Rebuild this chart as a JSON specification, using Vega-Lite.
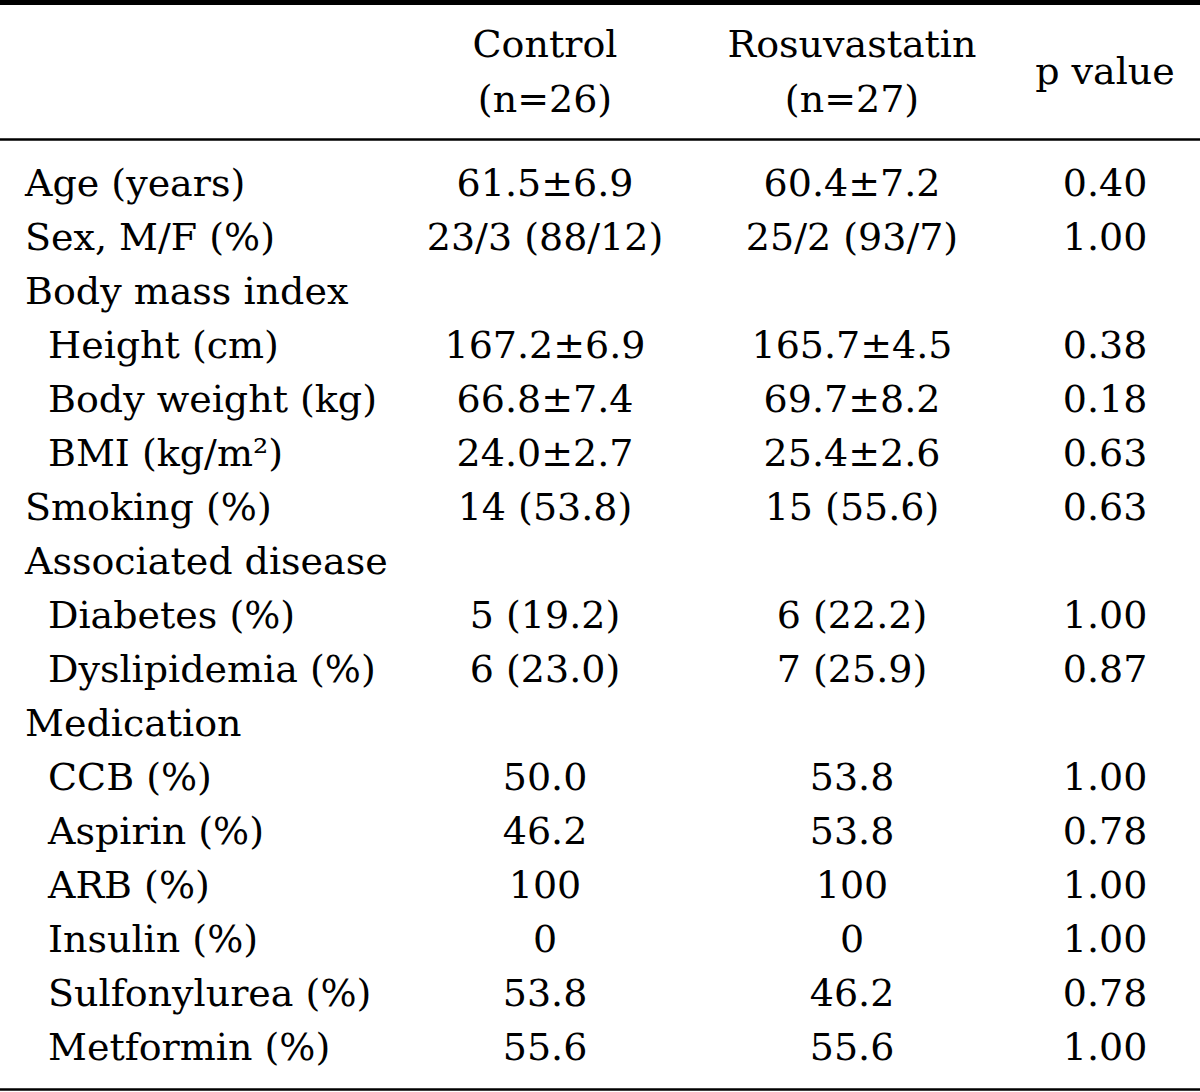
{
  "$schema": "https://vega.github.io/schema/vega-lite/v6.json",
  "width": 1200,
  "height": 1092,
  "padding": 0,
  "autosize": {"type": "none"},
  "background": "white",
  "config": {"view": {"stroke": null}},
  "datasets": {
    "cells": [
      {"row": 0, "col": "label", "text": "Age (years)"},
      {"row": 0, "col": "Control", "text": "61.5±6.9"},
      {"row": 0, "col": "Rosuvastatin", "text": "60.4±7.2"},
      {"row": 0, "col": "p value", "text": "0.40"},
      {"row": 1, "col": "label", "text": "Sex, M/F (%)"},
      {"row": 1, "col": "Control", "text": "23/3 (88/12)"},
      {"row": 1, "col": "Rosuvastatin", "text": "25/2 (93/7)"},
      {"row": 1, "col": "p value", "text": "1.00"},
      {"row": 2, "col": "label", "text": "Body mass index"},
      {"row": 3, "col": "sublabel", "text": "Height (cm)"},
      {"row": 3, "col": "Control", "text": "167.2±6.9"},
      {"row": 3, "col": "Rosuvastatin", "text": "165.7±4.5"},
      {"row": 3, "col": "p value", "text": "0.38"},
      {"row": 4, "col": "sublabel", "text": "Body weight (kg)"},
      {"row": 4, "col": "Control", "text": "66.8±7.4"},
      {"row": 4, "col": "Rosuvastatin", "text": "69.7±8.2"},
      {"row": 4, "col": "p value", "text": "0.18"},
      {"row": 5, "col": "sublabel", "text": "BMI (kg/m²)"},
      {"row": 5, "col": "Control", "text": "24.0±2.7"},
      {"row": 5, "col": "Rosuvastatin", "text": "25.4±2.6"},
      {"row": 5, "col": "p value", "text": "0.63"},
      {"row": 6, "col": "label", "text": "Smoking (%)"},
      {"row": 6, "col": "Control", "text": "14 (53.8)"},
      {"row": 6, "col": "Rosuvastatin", "text": "15 (55.6)"},
      {"row": 6, "col": "p value", "text": "0.63"},
      {"row": 7, "col": "label", "text": "Associated disease"},
      {"row": 8, "col": "sublabel", "text": "Diabetes (%)"},
      {"row": 8, "col": "Control", "text": "5 (19.2)"},
      {"row": 8, "col": "Rosuvastatin", "text": "6 (22.2)"},
      {"row": 8, "col": "p value", "text": "1.00"},
      {"row": 9, "col": "sublabel", "text": "Dyslipidemia (%)"},
      {"row": 9, "col": "Control", "text": "6 (23.0)"},
      {"row": 9, "col": "Rosuvastatin", "text": "7 (25.9)"},
      {"row": 9, "col": "p value", "text": "0.87"},
      {"row": 10, "col": "label", "text": "Medication"},
      {"row": 11, "col": "sublabel", "text": "CCB (%)"},
      {"row": 11, "col": "Control", "text": "50.0"},
      {"row": 11, "col": "Rosuvastatin", "text": "53.8"},
      {"row": 11, "col": "p value", "text": "1.00"},
      {"row": 12, "col": "sublabel", "text": "Aspirin (%)"},
      {"row": 12, "col": "Control", "text": "46.2"},
      {"row": 12, "col": "Rosuvastatin", "text": "53.8"},
      {"row": 12, "col": "p value", "text": "0.78"},
      {"row": 13, "col": "sublabel", "text": "ARB (%)"},
      {"row": 13, "col": "Control", "text": "100"},
      {"row": 13, "col": "Rosuvastatin", "text": "100"},
      {"row": 13, "col": "p value", "text": "1.00"},
      {"row": 14, "col": "sublabel", "text": "Insulin (%)"},
      {"row": 14, "col": "Control", "text": "0"},
      {"row": 14, "col": "Rosuvastatin", "text": "0"},
      {"row": 14, "col": "p value", "text": "1.00"},
      {"row": 15, "col": "sublabel", "text": "Sulfonylurea (%)"},
      {"row": 15, "col": "Control", "text": "53.8"},
      {"row": 15, "col": "Rosuvastatin", "text": "46.2"},
      {"row": 15, "col": "p value", "text": "0.78"},
      {"row": 16, "col": "sublabel", "text": "Metformin (%)"},
      {"row": 16, "col": "Control", "text": "55.6"},
      {"row": 16, "col": "Rosuvastatin", "text": "55.6"},
      {"row": 16, "col": "p value", "text": "1.00"}
    ],
    "header": [
      {"row": -2, "col": "Control", "text": "Control\n(n=26)"},
      {"row": -2, "col": "Rosuvastatin", "text": "Rosuvastatin\n(n=27)"},
      {"row": -2, "col": "p value", "text": "p value"}
    ]
  },
  "layer": [
    {
      "data": {"name": "cells"},
      "transform": [
        {"filter": "datum.col == 'label' || datum.col == 'sublabel'"},
        {"calculate": "indexof(['label','sublabel','Control','Rosuvastatin','p value'], datum.col)", "as": "c"}
      ],
      "mark": {"type": "text", "align": "left", "baseline": "middle", "font": "DejaVu Serif", "fontSize": 38, "color": "black"},
      "encoding": {
        "x": {"field": "c", "type": "quantitative", "scale": {"domain": [0, 1, 2, 3, 4], "range": [25, 48, 545, 852, 1105], "nice": false, "zero": false}, "axis": null},
        "y": {"field": "row", "type": "quantitative", "scale": {"domain": [-3.426, 16.796], "reverse": true, "nice": false, "zero": false}, "axis": null},
        "text": {"field": "text"}
      }
    },
    {
      "data": {"name": "cells"},
      "transform": [
        {"filter": "datum.col != 'label' && datum.col != 'sublabel'"},
        {"calculate": "indexof(['label','sublabel','Control','Rosuvastatin','p value'], datum.col)", "as": "c"}
      ],
      "mark": {"type": "text", "align": "center", "baseline": "middle", "font": "DejaVu Serif", "fontSize": 38, "color": "black"},
      "encoding": {
        "x": {"field": "c", "type": "quantitative", "axis": null},
        "y": {"field": "row", "type": "quantitative", "axis": null},
        "text": {"field": "text"}
      }
    },
    {
      "data": {"name": "header"},
      "transform": [
        {"filter": "datum.col != 'p value'"},
        {"calculate": "indexof(['label','sublabel','Control','Rosuvastatin','p value'], datum.col)", "as": "c"}
      ],
      "mark": {"type": "text", "align": "center", "baseline": "middle", "font": "DejaVu Serif", "fontSize": 38, "color": "black", "lineBreak": "\n", "lineHeight": 55, "dy": -31},
      "encoding": {
        "x": {"field": "c", "type": "quantitative", "axis": null},
        "y": {"field": "row", "type": "quantitative", "axis": null},
        "text": {"field": "text"}
      }
    },
    {
      "data": {"name": "header"},
      "transform": [
        {"filter": "datum.col == 'p value'"},
        {"calculate": "indexof(['label','sublabel','Control','Rosuvastatin','p value'], datum.col)", "as": "c"}
      ],
      "mark": {"type": "text", "align": "center", "baseline": "middle", "font": "DejaVu Serif", "fontSize": 38, "color": "black", "dy": -4},
      "encoding": {
        "x": {"field": "c", "type": "quantitative", "axis": null},
        "y": {"field": "row", "type": "quantitative", "axis": null},
        "text": {"field": "text"}
      }
    },
    {
      "data": {"values": [{}]},
      "mark": {"type": "rule", "color": "black", "strokeWidth": 5},
      "encoding": {"y": {"datum": -3.38, "type": "quantitative"}}
    },
    {
      "data": {"values": [{}]},
      "mark": {"type": "rule", "color": "black", "strokeWidth": 2.5},
      "encoding": {"y": {"datum": -0.843, "type": "quantitative"}}
    },
    {
      "data": {"values": [{}]},
      "mark": {"type": "rule", "color": "black", "strokeWidth": 2.5},
      "encoding": {"y": {"datum": 16.75, "type": "quantitative"}}
    }
  ]
}
